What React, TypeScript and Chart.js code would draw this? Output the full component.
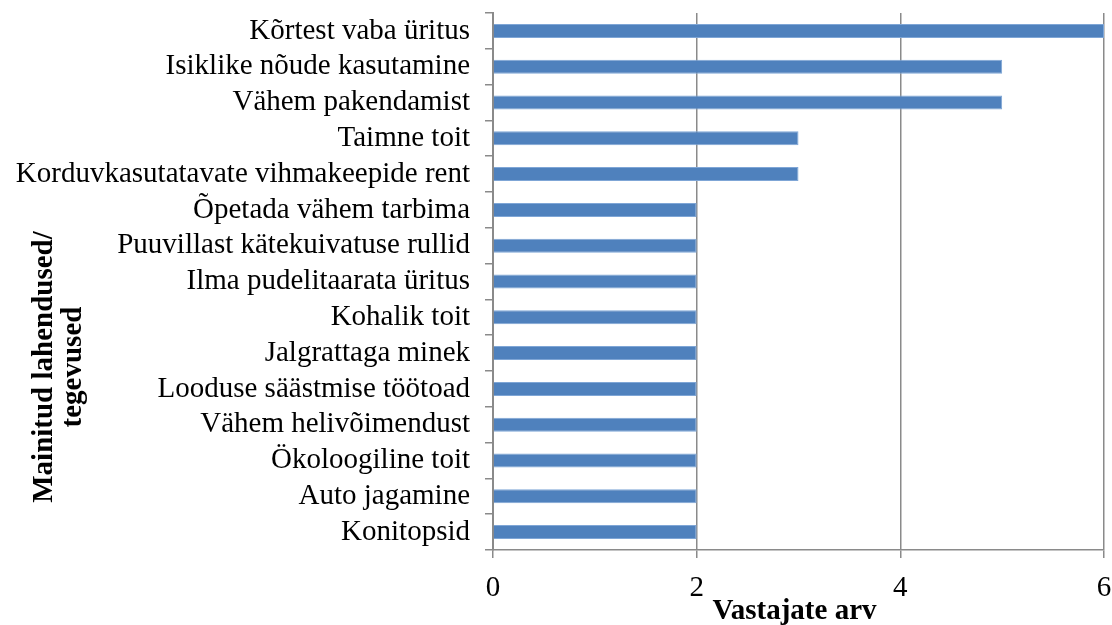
import React, { useEffect, useRef } from "react";
import { Chart, registerables } from "chart.js";

Chart.register(...registerables);

const categories = [
  "Kõrtest vaba üritus",
  "Isiklike nõude kasutamine",
  "Vähem pakendamist",
  "Taimne toit",
  "Korduvkasutatavate vihmakeepide rent",
  "Õpetada vähem tarbima",
  "Puuvillast kätekuivatuse rullid",
  "Ilma pudelitaarata üritus",
  "Kohalik toit",
  "Jalgrattaga minek",
  "Looduse säästmise töötoad",
  "Vähem helivõimendust",
  "Ökoloogiline toit",
  "Auto jagamine",
  "Konitopsid",
];
const values = [6, 5, 5, 3, 3, 2, 2, 2, 2, 2, 2, 2, 2, 2, 2];
const xTicks = [0, 2, 4, 6];
const yTitleLines = ["Mainitud lahendused/", "tegevused"];
const xTitle = "Vastajate arv";

const FONT = "'Liberation Serif', 'Times New Roman', serif";
const GRAY = "#8a8a8a";

const titlePlugin = {
  id: "customTitles",
  afterDraw(chart: any) {
    const ctx = chart.ctx;
    const area = chart.chartArea;
    ctx.save();
    ctx.fillStyle = "#000";
    ctx.font = `bold 29px ${FONT}`;
    ctx.textAlign = "center";
    ctx.textBaseline = "alphabetic";
    // x title, centred under the plot area
    ctx.fillText(xTitle, (area.left + area.right) / 2 - 4, 619);
    // y title (rotated)
    ctx.textBaseline = "middle";
    const lineXs = [45, 74];
    yTitleLines.forEach((line, i) => {
      ctx.save();
      ctx.translate(lineXs[i], 367);
      ctx.rotate(-Math.PI / 2);
      ctx.fillText(line, 0, 0);
      ctx.restore();
    });
    ctx.restore();
  },
};

export default function App() {
  const ref = useRef<HTMLCanvasElement>(null);
  useEffect(() => {
    if (!ref.current) return;
    const chart = new Chart(ref.current, {
      type: "bar",
      data: {
        labels: categories,
        datasets: [
          {
            data: values,
            backgroundColor: "#4f81bd",
            borderColor: "#7fa6d6",
            borderWidth: 1,
            barPercentage: 0.39,
            categoryPercentage: 1.0,
          },
        ],
      },
      options: {
        indexAxis: "y",
        animation: false,
        responsive: true,
        maintainAspectRatio: false,
        layout: { padding: { top: 13, right: 8, left: 0, bottom: 0 } },
        plugins: {
          legend: { display: false },
          tooltip: { enabled: false },
        },
        scales: {
          x: {
            type: "linear",
            min: 0,
            max: 6,
            afterBuildTicks: (scale: any) => {
              scale.ticks = xTicks.map((v) => ({ value: v }));
            },
            afterFit: (scale: any) => {
              scale.height = 75;
              scale.paddingLeft = 0;
              scale.paddingRight = 0;
            },
            ticks: {
              color: "#000",
              font: { family: FONT, size: 29 },
              padding: 13,
              maxRotation: 0,
            },
            grid: {
              color: GRAY,
              lineWidth: 1.5,
              drawOnChartArea: true,
              drawTicks: true,
              tickLength: 8,
            },
            border: { display: true, color: GRAY, width: 1.5 },
          },
          y: {
            type: "category",
            afterFit: (scale: any) => {
              scale.width = 493;
              scale.paddingTop = 0;
              scale.paddingBottom = 0;
            },
            ticks: {
              color: "#000",
              font: { family: FONT, size: 29 },
              padding: 15,
              autoSkip: false,
            },
            grid: {
              color: GRAY,
              lineWidth: 1.5,
              drawOnChartArea: false,
              drawTicks: true,
              tickLength: 8,
              offset: true,
            },
            border: { display: true, color: GRAY, width: 2 },
          },
        },
      },
      plugins: [titlePlugin],
    });
    return () => chart.destroy();
  }, []);
  return (
    <div style={{ position: "absolute", left: 0, top: 0, width: 1112, height: 625, background: "#fff" }}>
      <canvas ref={ref} />
    </div>
  );
}
